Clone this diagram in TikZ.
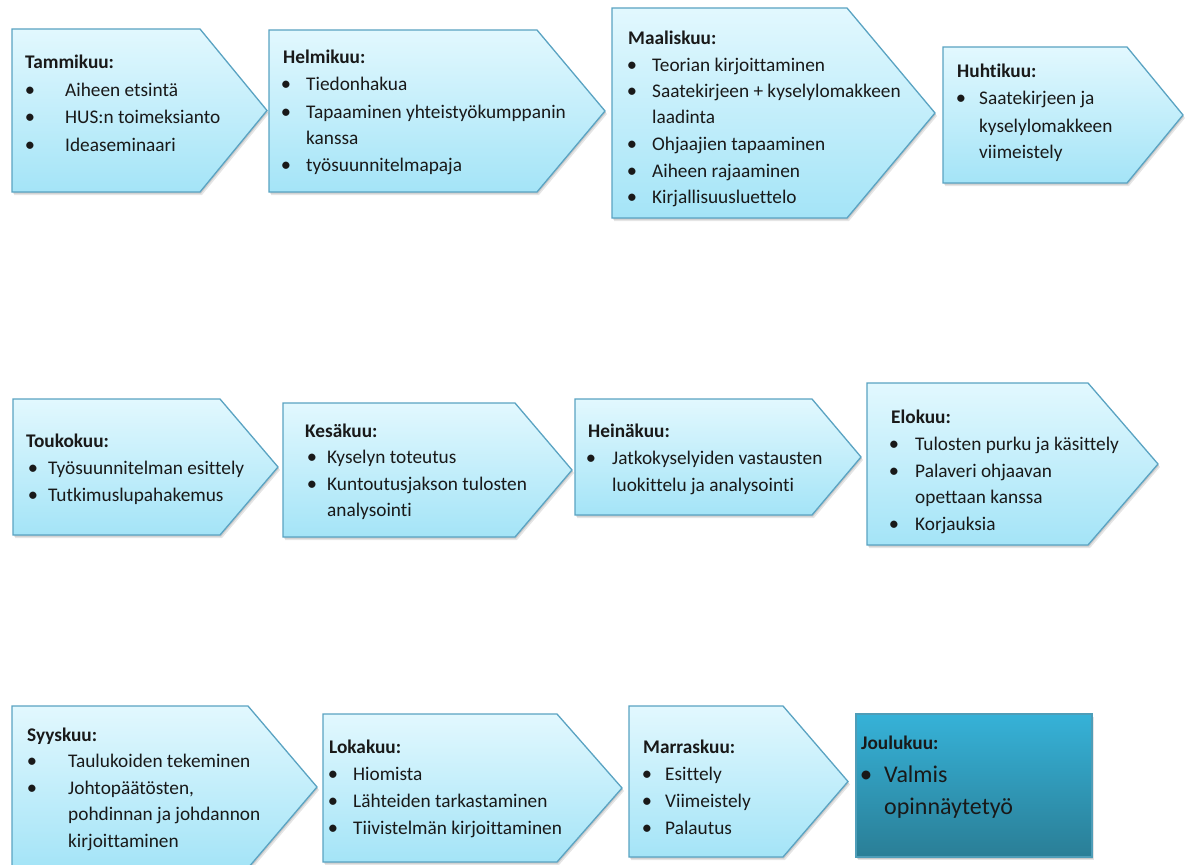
\documentclass[tikz,border=0pt]{standalone}
\usepackage{fontspec}
\setmainfont{Carlito}[Ligatures={NoCommon}]
\definecolor{boxtop}{HTML}{E2F8FE}
\definecolor{boxbot}{HTML}{A4E4F7}
\definecolor{boxline}{HTML}{5AA3C2}
\definecolor{jtop}{HTML}{36B2D8}
\definecolor{jbot}{HTML}{2A7E96}
\definecolor{jline}{HTML}{4E9DB8}
\tikzset{
  boxshade/.style={top color=boxtop, bottom color=boxbot},
  boxborder/.style={draw=boxline, line width=1.3pt, line join=miter},
  shadowa/.style={fill=black, opacity=0.10},
  shadowb/.style={fill=black, opacity=0.12},
  hdtext/.style={anchor=base west, inner sep=0pt, font=\bfseries\fontsize{19.3}{23}\selectfont, text=black!90},
  bodytext/.style={anchor=base west, inner sep=0pt, font=\fontsize{19.3}{23}\selectfont, text=black!90},
  bigtext/.style={anchor=base west, inner sep=0pt, font=\fontsize{24}{28}\selectfont, text=black!90},
  bulletmark/.style={anchor=base, inner sep=0pt, font=\fontsize{20.5}{23}\selectfont, text=black!90},
}
\newcount\tcnt
% chevron: name, left, top, corner x, tip x, bottom
\newcommand\mchev[6]{%
  \fill[shadowa] ({#2+2},{#3+3}) -- ({#4+2},{#3+3}) -- ({#5+2},{(#3+#6)/2+3}) -- ({#4+2},{#6+3}) -- ({#2+2},{#6+3}) -- cycle;
  \fill[shadowb] ({#2+1},{#3+1.5}) -- ({#4+1},{#3+1.5}) -- ({#5+1},{(#3+#6)/2+1.5}) -- ({#4+1},{#6+1.5}) -- ({#2+1},{#6+1.5}) -- cycle;
  \shade[boxshade] (#2,#3) -- (#4,#3) -- (#5,{(#3+#6)/2}) -- (#4,#6) -- (#2,#6) -- cycle;
  \draw[boxborder] (#2,#3) -- (#4,#3) -- (#5,{(#3+#6)/2}) -- (#4,#6) -- (#2,#6) -- cycle;
  \coordinate (#1) at (#2,#3);
}
\newcommand\mhd[3]{\global\advance\tcnt1 \node[hdtext] (t\the\tcnt) at (#1,#2) {#3};}
\newcommand\mbi[4]{\global\advance\tcnt1 \node[bulletmark] (b\the\tcnt) at (#1,#3) {•}; \node[bodytext] (t\the\tcnt) at (#2,#3) {#4};}
\newcommand\mct[3]{\global\advance\tcnt1 \node[bodytext] (t\the\tcnt) at (#1,#2) {#3};}
\begin{document}
\begin{tikzpicture}[x=1pt,y=-1pt]
\useasboundingbox (0,0) rectangle (1190,864);
\fill[white] (0,0) rectangle (1190,864);

% Row 1
\mchev{jan}{12}{29}{200}{267}{192}
\mhd{25}{69}{Tammikuu:}
\mbi{30}{65}{97}{Aiheen etsintä}
\mbi{30}{65}{124}{HUS:n toimeksianto}
\mbi{30}{65}{151}{Ideaseminaari}

\mchev{feb}{269}{30}{537}{605}{192}
\mhd{283}{64}{Helmikuu:}
\mbi{286}{306}{91}{Tiedonhakua}
\mbi{286}{306}{118}{Tapaaminen yhteistyökumppanin}
\mct{306}{144}{kanssa}
\mbi{286}{306}{171}{työsuunnitelmapaja}

\mchev{mar}{612}{8}{847}{935}{218}
\mhd{628}{45}{Maaliskuu:}
\mbi{632}{652}{72}{Teorian kirjoittaminen}
\mbi{632}{652}{98}{Saatekirjeen + kyselylomakkeen}
\mct{652}{124}{laadinta}
\mbi{632}{652}{150}{Ohjaajien tapaaminen}
\mbi{632}{652}{177}{Aiheen rajaaminen}
\mbi{632}{652}{203}{Kirjallisuusluettelo}

\mchev{apr}{943}{47}{1127}{1183}{183}
\mhd{957}{78}{Huhtikuu:}
\mbi{961}{979}{105}{Saatekirjeen ja}
\mct{979}{132}{kyselylomakkeen}
\mct{979}{158}{viimeistely}

% Row 2
\mchev{may}{13}{399}{220}{278}{535}
\mhd{26}{447}{Toukokuu:}
\mbi{33}{48}{474}{Työsuunnitelman esittely}
\mbi{33}{48}{501}{Tutkimuslupahakemus}

\mchev{jun}{283}{403}{515}{572}{537}
\mhd{305}{437}{Kesäkuu:}
\mbi{312}{327}{463}{Kyselyn toteutus}
\mbi{312}{327}{490}{Kuntoutusjakson tulosten}
\mct{327}{516}{analysointi}

\mchev{jul}{575}{399}{812}{861}{515}
\mhd{588}{437}{Heinäkuu:}
\mbi{591}{612}{464}{Jatkokyselyiden vastausten}
\mct{612}{491}{luokittelu ja analysointi}

\mchev{aug}{867}{383}{1088}{1158}{545}
\mhd{891}{423}{Elokuu:}
\mbi{894}{915}{450}{Tulosten purku ja käsittely}
\mbi{894}{915}{477}{Palaveri ohjaavan}
\mct{915}{503}{opettaan kanssa}
\mbi{894}{915}{530}{Korjauksia}

% Row 3
\mchev{sep}{12}{706}{248}{317}{868}
\mhd{27}{741}{Syyskuu:}
\mbi{32}{68}{767}{Taulukoiden tekeminen}
\mbi{32}{68}{794}{Johtopäätösten,}
\mct{68}{820}{pohdinnan ja johdannon}
\mct{68}{847}{kirjoittaminen}

\mchev{oct}{323}{714}{557}{622}{862}
\mhd{329}{753}{Lokakuu:}
\mbi{333}{353}{780}{Hiomista}
\mbi{333}{353}{807}{Lähteiden tarkastaminen}
\mbi{333}{353}{834}{Tiivistelmän kirjoittaminen}

\mchev{nov}{629}{706}{783}{848}{857}
\mhd{643}{753}{Marraskuu:}
\mbi{647}{665}{780}{Esittely}
\mbi{647}{665}{807}{Viimeistely}
\mbi{647}{665}{834}{Palautus}

% Joulukuu
\fill[shadowa] (858,717) rectangle (1094,860);
\fill[shadowb] (857,715.5) rectangle (1093,858.5);
\shade[top color=jtop, bottom color=jbot] (856,714) rectangle (1092,857);
\draw[draw=jline, line width=1.3pt] (856,714) rectangle (1092,857);
\coordinate (dec) at (856,714);
\mhd{861}{749}{Joulukuu:}
\global\advance\tcnt1 \node[bulletmark, font=\fontsize{25}{28}\selectfont] (b\the\tcnt) at (866,782) {•};
\node[bigtext] (t\the\tcnt) at (884,782) {Valmis};
\global\advance\tcnt1 \node[bigtext] (t\the\tcnt) at (884,814) {opinnäytetyö};
\end{tikzpicture}
\end{document}
